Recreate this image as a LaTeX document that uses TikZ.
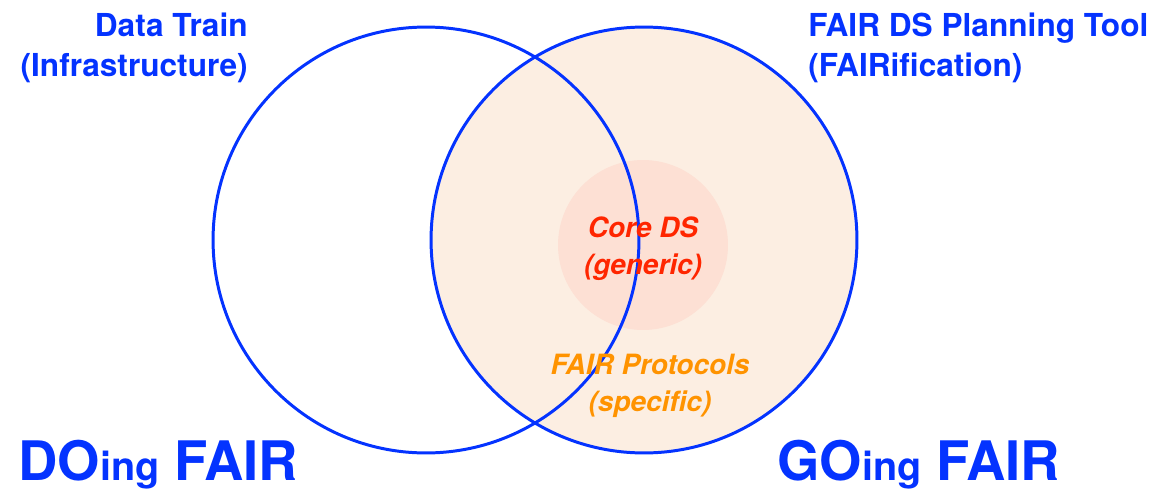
\documentclass[tikz,border=0pt]{standalone}
\usepackage{fontspec}
\setmainfont{TeX Gyre Heros}
\usetikzlibrary{positioning}
\definecolor{fairblue}{RGB}{4,51,255}
\definecolor{peachbg}{RGB}{252,238,226}
\definecolor{corefill}{RGB}{253,224,212}
\definecolor{corered}{RGB}{255,38,0}
\definecolor{protoorange}{RGB}{255,147,0}
\tikzset{
  ring/.style={circle, draw=fairblue, line width=1.7pt, minimum size=8.52cm, inner sep=0pt},
  toptag/.style={text=fairblue, font=\fontsize{18}{22.8}\selectfont\bfseries, inner sep=0pt},
  bigtag/.style={text=fairblue, font=\fontsize{31}{38}\selectfont\bfseries, inner sep=0pt},
  inntag/.style={font=\fontsize{15.9}{21}\selectfont\bfseries\itshape, align=center, inner sep=0pt},
}
\newcommand{\smallsuffix}[1]{{\fontsize{22.5}{28}\selectfont #1}}

\begin{document}
\begin{tikzpicture}[x=0.02cm, y=-0.02cm]
\useasboundingbox (0,0) rectangle (1165,490);

% --- Background fills ---
\fill[peachbg] (644,240) circle[radius=213];
\node[circle, fill=corefill, minimum size=3.4cm, inner sep=0pt] (coredisk) at (643,245) {};

% --- Overlapping circles ---
\node[ring] (doingring) at (426,240) {};
\node[ring] (goingring) at (644,240) {};

% --- Top labels ---
\node[toptag, align=right, anchor=north east] (train) at (248,13) {Data Train\\(Infrastructure)};
\node[toptag, align=left, anchor=north west] (planner) at (808,13) {FAIR DS Planning Tool\\(FAIRification)};

% --- Inner labels ---
\node[inntag, text=corered] (core) at (643,249) {Core DS\\(generic)};
\node[inntag, text=protoorange] (proto) at (650,386) {FAIR Protocols\\(specific)};

% --- Bottom titles ---
\node[bigtag, anchor=base west] (doing) at (18,480) {DO\smallsuffix{ing} FAIR};
\node[bigtag, anchor=base west] (going) at (777,480) {GO\smallsuffix{ing} FAIR};

\end{tikzpicture}
\end{document}
